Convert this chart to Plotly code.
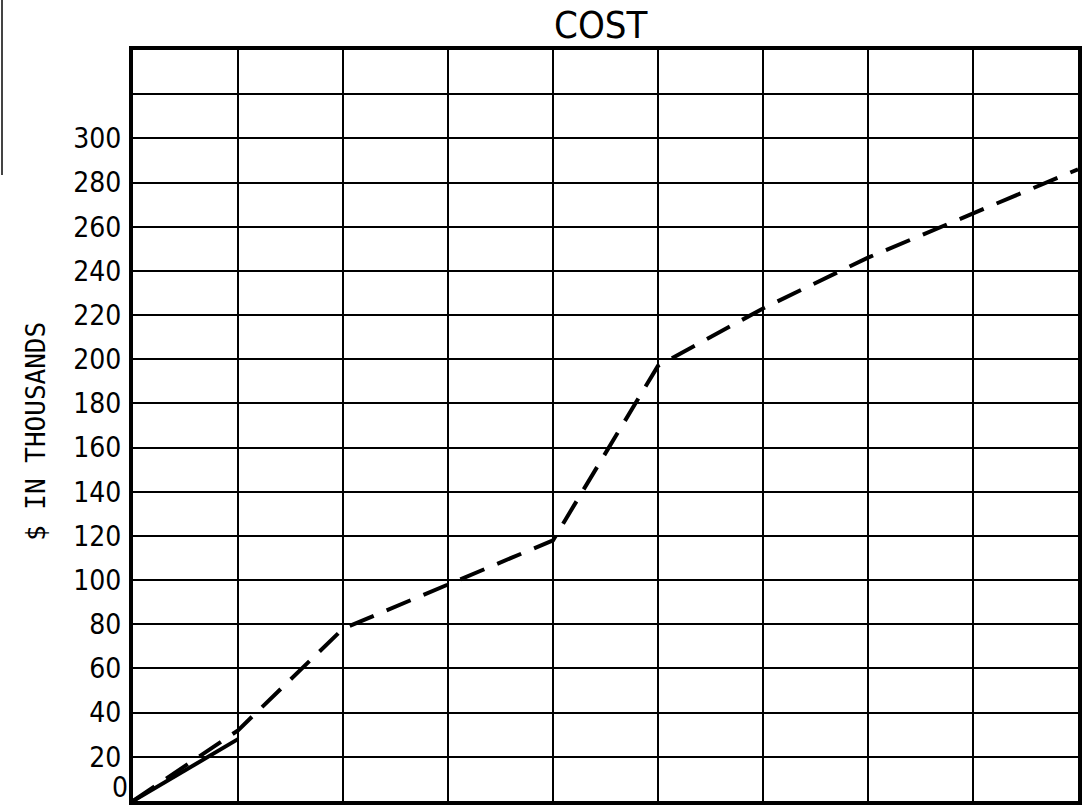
import plotly.graph_objects as go

# Data
x_points = [0, 1, 2, 3, 4, 5, 6, 7, 8, 9]
cost_dashed = [0, 32, 78, 98, 118, 197, 223, 246, 266, 286]
x_solid = [0, 1]
cost_solid = [0, 28]
y_tick_vals = list(range(0, 340, 20))
y_tick_text = [str(v) if 0 < v <= 300 else "" for v in y_tick_vals]
zero_label = "0"

NARROW = "DejaVu Sans Condensed"

fig = go.Figure()
fig.add_trace(go.Scatter(
    x=x_points, y=cost_dashed, mode="lines",
    line=dict(color="black", width=4, dash="26px,14px"),
    showlegend=False, hoverinfo="skip"))
fig.add_trace(go.Scatter(
    x=x_solid, y=cost_solid, mode="lines",
    line=dict(color="black", width=4),
    showlegend=False, hoverinfo="skip"))

L, R, T, B = 133, 5, 50, 6
W, H = 1083, 807
pw = W - L - R
ph = H - T - B

fig.update_layout(
    width=W, height=H,
    margin=dict(l=L, r=R, t=T, b=B, autoexpand=False),
    paper_bgcolor="white", plot_bgcolor="white",
    xaxis=dict(range=[0, 9], dtick=1, tick0=0, showgrid=True,
               gridcolor="black", gridwidth=2, showticklabels=False,
               ticks="", zeroline=False, showline=True, linecolor="black",
               linewidth=4, mirror=True, fixedrange=True, automargin=False),
    yaxis=dict(range=[0, 340], tickmode="array", tickvals=y_tick_vals,
               ticktext=y_tick_text, showgrid=True, gridcolor="black",
               gridwidth=2, ticks="", zeroline=False, showline=True,
               linecolor="black", linewidth=4, mirror=True,
               ticklabeloverflow="allow", ticklabelstandoff=2,
               automargin=False,
               tickfont=dict(family=NARROW, size=28, color="black"),
               fixedrange=True),
    annotations=[
        dict(text="COST", xref="paper", yref="paper",
             x=(600 - L) / pw, y=1 + (T - 25) / ph,
             xanchor="center", yanchor="middle", showarrow=False,
             font=dict(family=NARROW, size=38, color="black")),
        dict(text="$ IN THOUSANDS", xref="paper", yref="paper",
             x=(36 - L) / pw, y=(H - B - 432) / ph, textangle=-90,
             xanchor="center", yanchor="middle", showarrow=False,
             font=dict(family="DejaVu Sans Mono", size=26, color="black")),
        dict(text=zero_label, xref="paper", yref="y",
             x=0, y=y_tick_vals[0], xanchor="right", yanchor="middle",
             xshift=-4, yshift=14, showarrow=False, borderpad=0,
             font=dict(family=NARROW, size=28, color="black")),
    ],
    shapes=[
        dict(type="line", xref="paper", yref="paper",
             x0=(2 - L) / pw, x1=(2 - L) / pw,
             y0=(H - B) / ph, y1=(H - B - 175) / ph,
             line=dict(color="#444", width=2)),
    ],
)

fig.write_html("out.html",
               config={"displayModeBar": False, "staticPlot": True},
               post_script="document.body.style.margin='0';"
                           "document.body.style.overflow='hidden';")
